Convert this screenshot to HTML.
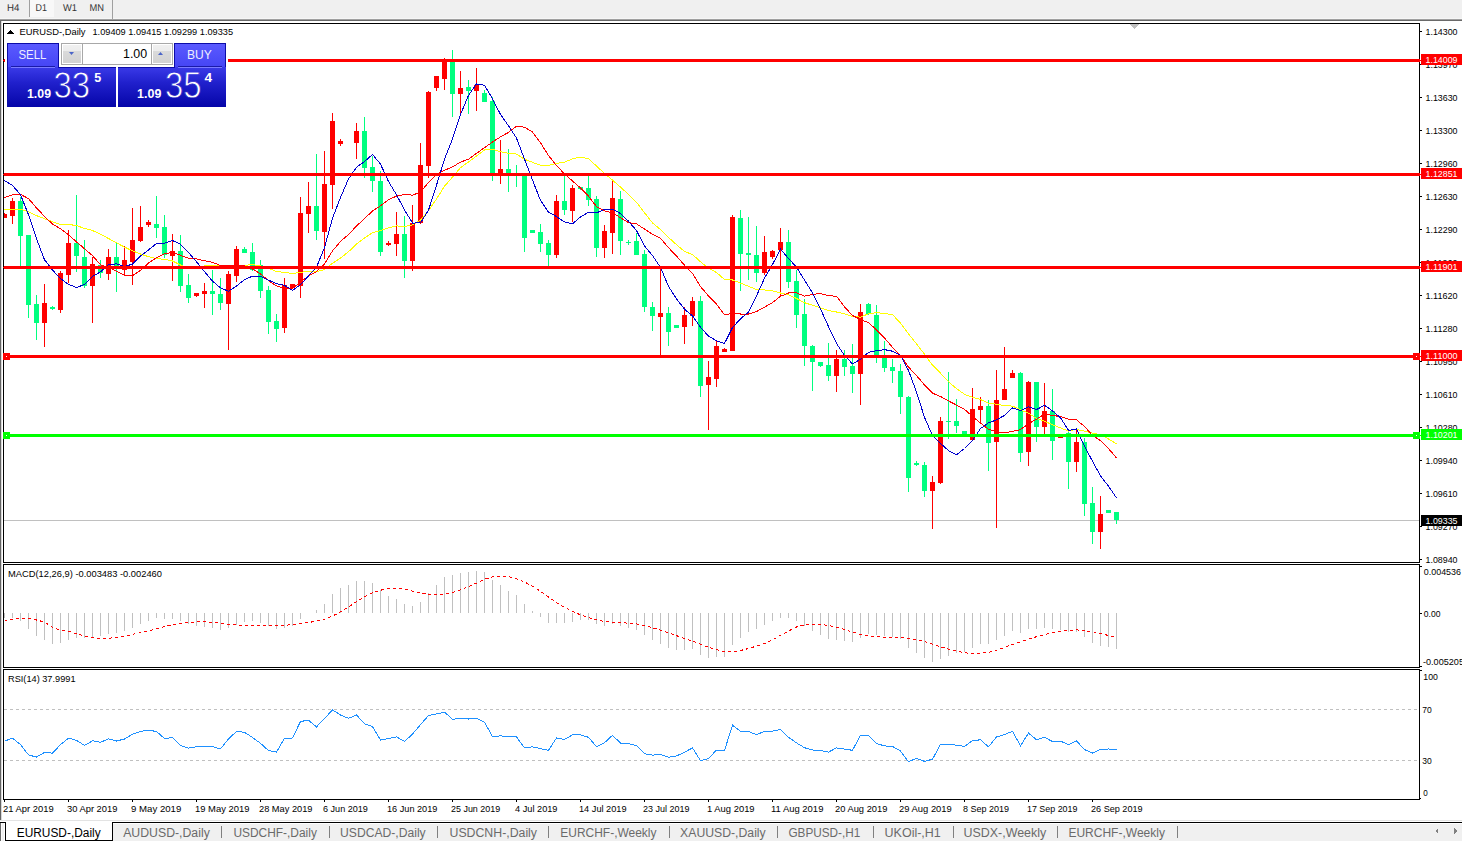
<!DOCTYPE html>
<html><head><meta charset="utf-8"><title>EURUSD-,Daily</title>
<style>
html,body{margin:0;padding:0;}
body{width:1462px;height:841px;overflow:hidden;background:#fff;position:relative;font-family:"Liberation Sans",sans-serif;}
.abs{position:absolute;}
svg text{font-family:"Liberation Sans",sans-serif;}
.tb{position:absolute;left:0;top:0;width:1462px;height:19px;background:#f0f0f0;}
.bl{position:absolute;box-sizing:border-box;}
</style></head><body>
<div class="tb"></div>
<div class="abs" style="left:0;top:18px;width:1462px;height:1px;background:#f6f6f6"></div>
<div class="abs" style="left:0;top:19px;width:1462px;height:1px;background:#a0a0a0"></div>
<div class="abs" style="left:0;top:20px;width:1462px;height:1px;background:#696969"></div>
<div class="abs" style="left:30px;top:0;width:24px;height:17px;background:#f8f8f8"></div>
<div class="abs" style="left:29px;top:0;width:1px;height:17px;background:#a0a0a0"></div>
<div class="abs" style="left:112px;top:0;width:1px;height:19px;background:#a0a0a0"></div>
<div class="abs" style="left:0;top:820px;width:1462px;height:1px;background:#e3e3e3"></div>
<div class="abs" style="left:0;top:822px;width:1462px;height:19px;background:#f0f0f0"></div>
<div class="abs" style="left:0;top:822px;width:1462px;height:1px;background:#000"></div>
<div class="abs" style="left:113px;top:823px;width:1349px;height:1px;background:#fff"></div>
<div class="abs" style="left:0;top:823px;width:1px;height:18px;background:#6a6a6a"></div>
<div class="abs" style="left:1px;top:823px;width:1px;height:18px;background:#fafafa"></div>
<div class="abs" style="left:4px;top:823px;width:1px;height:18px;background:#fff"></div>
<div class="abs" style="left:5px;top:822px;width:108px;height:19px;background:#fff;border-left:1px solid #000;border-right:1px solid #000;border-bottom:1px solid #000;box-sizing:border-box"></div>
<svg class="abs" style="left:0;top:0" width="1462" height="841" viewBox="0 0 1462 841" shape-rendering="crispEdges">
<g font-family="Liberation Sans" text-rendering="geometricPrecision">
<text x="7" y="11" font-size="10" fill="#333" textLength="12.4" lengthAdjust="spacingAndGlyphs">H4</text>
<text x="35.6" y="11" font-size="10" fill="#333" textLength="11.4" lengthAdjust="spacingAndGlyphs">D1</text>
<text x="63" y="11" font-size="10" fill="#333" textLength="14" lengthAdjust="spacingAndGlyphs">W1</text>
<text x="89.5" y="11" font-size="10" fill="#333" textLength="14.5" lengthAdjust="spacingAndGlyphs">MN</text>
</g>
<rect x="0" y="21" width="1" height="799" fill="#646464"/>
<rect x="1" y="21" width="1" height="799" fill="#d8d8d8"/>
<rect x="3" y="23" width="1417" height="1" fill="#000"/>
<rect x="3" y="562" width="1417" height="1" fill="#000"/>
<rect x="3" y="23" width="1" height="540" fill="#000"/>
<rect x="1419" y="23" width="1" height="540" fill="#000"/>
<rect x="3" y="564" width="1417" height="1" fill="#000"/>
<rect x="3" y="667" width="1417" height="1" fill="#000"/>
<rect x="3" y="564" width="1" height="104" fill="#000"/>
<rect x="1419" y="564" width="1" height="104" fill="#000"/>
<rect x="3" y="669" width="1417" height="1" fill="#000"/>
<rect x="3" y="799" width="1417" height="1" fill="#000"/>
<rect x="3" y="669" width="1" height="131" fill="#000"/>
<rect x="1419" y="669" width="1" height="131" fill="#000"/>
<rect x="1420" y="31" width="2" height="1" fill="#000"/>
<text x="1425.5" y="35" font-size="9.6" fill="#000" textLength="32" lengthAdjust="spacingAndGlyphs">1.14300</text>
<rect x="1420" y="64" width="2" height="1" fill="#000"/>
<text x="1425.5" y="68" font-size="9.6" fill="#000" textLength="32" lengthAdjust="spacingAndGlyphs">1.13970</text>
<rect x="1420" y="97" width="2" height="1" fill="#000"/>
<text x="1425.5" y="101" font-size="9.6" fill="#000" textLength="32" lengthAdjust="spacingAndGlyphs">1.13630</text>
<rect x="1420" y="130" width="2" height="1" fill="#000"/>
<text x="1425.5" y="134" font-size="9.6" fill="#000" textLength="32" lengthAdjust="spacingAndGlyphs">1.13300</text>
<rect x="1420" y="163" width="2" height="1" fill="#000"/>
<text x="1425.5" y="167" font-size="9.6" fill="#000" textLength="32" lengthAdjust="spacingAndGlyphs">1.12960</text>
<rect x="1420" y="196" width="2" height="1" fill="#000"/>
<text x="1425.5" y="200" font-size="9.6" fill="#000" textLength="32" lengthAdjust="spacingAndGlyphs">1.12630</text>
<rect x="1420" y="229" width="2" height="1" fill="#000"/>
<text x="1425.5" y="233" font-size="9.6" fill="#000" textLength="32" lengthAdjust="spacingAndGlyphs">1.12290</text>
<rect x="1420" y="262" width="2" height="1" fill="#000"/>
<text x="1425.5" y="266" font-size="9.6" fill="#000" textLength="32" lengthAdjust="spacingAndGlyphs">1.11960</text>
<rect x="1420" y="295" width="2" height="1" fill="#000"/>
<text x="1425.5" y="299" font-size="9.6" fill="#000" textLength="32" lengthAdjust="spacingAndGlyphs">1.11620</text>
<rect x="1420" y="328" width="2" height="1" fill="#000"/>
<text x="1425.5" y="332" font-size="9.6" fill="#000" textLength="32" lengthAdjust="spacingAndGlyphs">1.11280</text>
<rect x="1420" y="361" width="2" height="1" fill="#000"/>
<text x="1425.5" y="365" font-size="9.6" fill="#000" textLength="32" lengthAdjust="spacingAndGlyphs">1.10950</text>
<rect x="1420" y="394" width="2" height="1" fill="#000"/>
<text x="1425.5" y="398" font-size="9.6" fill="#000" textLength="32" lengthAdjust="spacingAndGlyphs">1.10610</text>
<rect x="1420" y="427" width="2" height="1" fill="#000"/>
<text x="1425.5" y="431" font-size="9.6" fill="#000" textLength="32" lengthAdjust="spacingAndGlyphs">1.10280</text>
<rect x="1420" y="460" width="2" height="1" fill="#000"/>
<text x="1425.5" y="464" font-size="9.6" fill="#000" textLength="32" lengthAdjust="spacingAndGlyphs">1.09940</text>
<rect x="1420" y="493" width="2" height="1" fill="#000"/>
<text x="1425.5" y="497" font-size="9.6" fill="#000" textLength="32" lengthAdjust="spacingAndGlyphs">1.09610</text>
<rect x="1420" y="526" width="2" height="1" fill="#000"/>
<text x="1425.5" y="530" font-size="9.6" fill="#000" textLength="32" lengthAdjust="spacingAndGlyphs">1.09270</text>
<rect x="1420" y="559" width="2" height="1" fill="#000"/>
<text x="1425.5" y="563" font-size="9.6" fill="#000" textLength="32" lengthAdjust="spacingAndGlyphs">1.08940</text>
<rect x="4" y="520" width="1415" height="1" fill="#c0c0c0"/>
<rect x="4" y="213" width="1" height="5" fill="#ff0000"/>
<rect x="4" y="214" width="3" height="4" fill="#ff0000"/>
<rect x="12" y="198" width="1" height="26" fill="#ff0000"/>
<rect x="10" y="201" width="5" height="15" fill="#ff0000"/>
<rect x="20" y="197" width="1" height="69" fill="#00ff7f"/>
<rect x="18" y="201" width="5" height="35" fill="#00ff7f"/>
<rect x="28" y="235" width="1" height="83" fill="#00ff7f"/>
<rect x="26" y="235" width="5" height="70" fill="#00ff7f"/>
<rect x="36" y="295" width="1" height="45" fill="#00ff7f"/>
<rect x="34" y="304" width="5" height="19" fill="#00ff7f"/>
<rect x="44" y="284" width="1" height="63" fill="#ff0000"/>
<rect x="42" y="303" width="5" height="20" fill="#ff0000"/>
<rect x="52" y="306" width="1" height="4" fill="#00ff7f"/>
<rect x="50" y="307" width="5" height="2" fill="#00ff7f"/>
<rect x="60" y="271" width="1" height="42" fill="#ff0000"/>
<rect x="58" y="273" width="5" height="37" fill="#ff0000"/>
<rect x="68" y="230" width="1" height="53" fill="#ff0000"/>
<rect x="66" y="243" width="5" height="32" fill="#ff0000"/>
<rect x="76" y="195" width="1" height="77" fill="#00ff7f"/>
<rect x="74" y="243" width="5" height="13" fill="#00ff7f"/>
<rect x="84" y="240" width="1" height="48" fill="#00ff7f"/>
<rect x="82" y="257" width="5" height="29" fill="#00ff7f"/>
<rect x="92" y="257" width="1" height="66" fill="#ff0000"/>
<rect x="90" y="264" width="5" height="22" fill="#ff0000"/>
<rect x="100" y="260" width="1" height="18" fill="#00ff7f"/>
<rect x="98" y="265" width="5" height="8" fill="#00ff7f"/>
<rect x="108" y="249" width="1" height="31" fill="#ff0000"/>
<rect x="106" y="257" width="5" height="17" fill="#ff0000"/>
<rect x="116" y="242" width="1" height="50" fill="#00ff7f"/>
<rect x="114" y="257" width="5" height="12" fill="#00ff7f"/>
<rect x="124" y="246" width="1" height="29" fill="#ff0000"/>
<rect x="122" y="260" width="5" height="10" fill="#ff0000"/>
<rect x="132" y="208" width="1" height="77" fill="#ff0000"/>
<rect x="130" y="240" width="5" height="22" fill="#ff0000"/>
<rect x="140" y="206" width="1" height="36" fill="#ff0000"/>
<rect x="138" y="227" width="5" height="14" fill="#ff0000"/>
<rect x="148" y="220" width="1" height="7" fill="#ff0000"/>
<rect x="146" y="222" width="5" height="3" fill="#ff0000"/>
<rect x="156" y="196" width="1" height="42" fill="#00ff7f"/>
<rect x="154" y="224" width="5" height="4" fill="#00ff7f"/>
<rect x="164" y="215" width="1" height="43" fill="#00ff7f"/>
<rect x="162" y="227" width="5" height="28" fill="#00ff7f"/>
<rect x="172" y="234" width="1" height="47" fill="#ff0000"/>
<rect x="170" y="251" width="5" height="5" fill="#ff0000"/>
<rect x="180" y="235" width="1" height="57" fill="#00ff7f"/>
<rect x="178" y="251" width="5" height="35" fill="#00ff7f"/>
<rect x="188" y="274" width="1" height="29" fill="#00ff7f"/>
<rect x="186" y="285" width="5" height="13" fill="#00ff7f"/>
<rect x="196" y="293" width="1" height="4" fill="#ff0000"/>
<rect x="194" y="293" width="5" height="3" fill="#ff0000"/>
<rect x="204" y="283" width="1" height="25" fill="#ff0000"/>
<rect x="202" y="291" width="5" height="3" fill="#ff0000"/>
<rect x="212" y="270" width="1" height="45" fill="#00ff7f"/>
<rect x="210" y="291" width="5" height="3" fill="#00ff7f"/>
<rect x="220" y="278" width="1" height="32" fill="#00ff7f"/>
<rect x="218" y="294" width="5" height="9" fill="#00ff7f"/>
<rect x="228" y="271" width="1" height="79" fill="#ff0000"/>
<rect x="226" y="274" width="5" height="30" fill="#ff0000"/>
<rect x="236" y="246" width="1" height="36" fill="#ff0000"/>
<rect x="234" y="249" width="5" height="27" fill="#ff0000"/>
<rect x="244" y="247" width="1" height="6" fill="#00ff7f"/>
<rect x="242" y="249" width="5" height="4" fill="#00ff7f"/>
<rect x="252" y="243" width="1" height="28" fill="#00ff7f"/>
<rect x="250" y="252" width="5" height="18" fill="#00ff7f"/>
<rect x="260" y="260" width="1" height="38" fill="#00ff7f"/>
<rect x="258" y="265" width="5" height="26" fill="#00ff7f"/>
<rect x="268" y="286" width="1" height="48" fill="#00ff7f"/>
<rect x="266" y="290" width="5" height="32" fill="#00ff7f"/>
<rect x="276" y="314" width="1" height="28" fill="#00ff7f"/>
<rect x="274" y="321" width="5" height="8" fill="#00ff7f"/>
<rect x="284" y="278" width="1" height="55" fill="#ff0000"/>
<rect x="282" y="285" width="5" height="43" fill="#ff0000"/>
<rect x="292" y="284" width="1" height="4" fill="#ff0000"/>
<rect x="290" y="284" width="5" height="4" fill="#ff0000"/>
<rect x="300" y="197" width="1" height="101" fill="#ff0000"/>
<rect x="298" y="213" width="5" height="73" fill="#ff0000"/>
<rect x="308" y="182" width="1" height="51" fill="#ff0000"/>
<rect x="306" y="206" width="5" height="8" fill="#ff0000"/>
<rect x="316" y="154" width="1" height="86" fill="#00ff7f"/>
<rect x="314" y="206" width="5" height="25" fill="#00ff7f"/>
<rect x="324" y="151" width="1" height="108" fill="#ff0000"/>
<rect x="322" y="184" width="5" height="48" fill="#ff0000"/>
<rect x="332" y="113" width="1" height="96" fill="#ff0000"/>
<rect x="330" y="121" width="5" height="64" fill="#ff0000"/>
<rect x="340" y="139" width="1" height="7" fill="#ff0000"/>
<rect x="338" y="141" width="5" height="3" fill="#ff0000"/>
<rect x="356" y="123" width="1" height="36" fill="#ff0000"/>
<rect x="354" y="131" width="5" height="12" fill="#ff0000"/>
<rect x="364" y="117" width="1" height="61" fill="#00ff7f"/>
<rect x="362" y="131" width="5" height="37" fill="#00ff7f"/>
<rect x="372" y="156" width="1" height="36" fill="#00ff7f"/>
<rect x="370" y="167" width="5" height="14" fill="#00ff7f"/>
<rect x="380" y="171" width="1" height="85" fill="#00ff7f"/>
<rect x="378" y="181" width="5" height="71" fill="#00ff7f"/>
<rect x="388" y="241" width="1" height="5" fill="#ff0000"/>
<rect x="386" y="243" width="5" height="2" fill="#ff0000"/>
<rect x="396" y="212" width="1" height="44" fill="#ff0000"/>
<rect x="394" y="234" width="5" height="10" fill="#ff0000"/>
<rect x="404" y="216" width="1" height="62" fill="#00ff7f"/>
<rect x="402" y="234" width="5" height="27" fill="#00ff7f"/>
<rect x="412" y="205" width="1" height="66" fill="#ff0000"/>
<rect x="410" y="223" width="5" height="38" fill="#ff0000"/>
<rect x="420" y="143" width="1" height="81" fill="#ff0000"/>
<rect x="418" y="165" width="5" height="58" fill="#ff0000"/>
<rect x="428" y="91" width="1" height="87" fill="#ff0000"/>
<rect x="426" y="92" width="5" height="74" fill="#ff0000"/>
<rect x="436" y="76" width="1" height="15" fill="#ff0000"/>
<rect x="434" y="76" width="5" height="12" fill="#ff0000"/>
<rect x="444" y="58" width="1" height="32" fill="#ff0000"/>
<rect x="442" y="60" width="5" height="19" fill="#ff0000"/>
<rect x="452" y="50" width="1" height="67" fill="#00ff7f"/>
<rect x="450" y="62" width="5" height="32" fill="#00ff7f"/>
<rect x="460" y="71" width="1" height="42" fill="#ff0000"/>
<rect x="458" y="88" width="5" height="6" fill="#ff0000"/>
<rect x="468" y="80" width="1" height="34" fill="#00ff7f"/>
<rect x="466" y="87" width="5" height="4" fill="#00ff7f"/>
<rect x="476" y="68" width="1" height="43" fill="#ff0000"/>
<rect x="474" y="85" width="5" height="6" fill="#ff0000"/>
<rect x="484" y="90" width="1" height="12" fill="#00ff7f"/>
<rect x="482" y="93" width="5" height="9" fill="#00ff7f"/>
<rect x="492" y="97" width="1" height="84" fill="#00ff7f"/>
<rect x="490" y="101" width="5" height="72" fill="#00ff7f"/>
<rect x="500" y="140" width="1" height="44" fill="#ff0000"/>
<rect x="498" y="169" width="5" height="5" fill="#ff0000"/>
<rect x="508" y="149" width="1" height="43" fill="#00ff7f"/>
<rect x="506" y="169" width="5" height="4" fill="#00ff7f"/>
<rect x="516" y="165" width="1" height="22" fill="#00ff7f"/>
<rect x="514" y="173" width="5" height="2" fill="#00ff7f"/>
<rect x="524" y="176" width="1" height="76" fill="#00ff7f"/>
<rect x="522" y="176" width="5" height="62" fill="#00ff7f"/>
<rect x="532" y="230" width="1" height="3" fill="#00ff7f"/>
<rect x="530" y="230" width="5" height="3" fill="#00ff7f"/>
<rect x="540" y="224" width="1" height="28" fill="#00ff7f"/>
<rect x="538" y="232" width="5" height="12" fill="#00ff7f"/>
<rect x="548" y="240" width="1" height="26" fill="#00ff7f"/>
<rect x="546" y="243" width="5" height="12" fill="#00ff7f"/>
<rect x="556" y="195" width="1" height="63" fill="#ff0000"/>
<rect x="554" y="201" width="5" height="54" fill="#ff0000"/>
<rect x="564" y="176" width="1" height="39" fill="#00ff7f"/>
<rect x="562" y="201" width="5" height="9" fill="#00ff7f"/>
<rect x="572" y="185" width="1" height="37" fill="#ff0000"/>
<rect x="570" y="188" width="5" height="23" fill="#ff0000"/>
<rect x="580" y="187" width="1" height="3" fill="#00ff7f"/>
<rect x="578" y="187" width="5" height="2" fill="#00ff7f"/>
<rect x="588" y="176" width="1" height="30" fill="#00ff7f"/>
<rect x="586" y="188" width="5" height="12" fill="#00ff7f"/>
<rect x="596" y="196" width="1" height="61" fill="#00ff7f"/>
<rect x="594" y="199" width="5" height="49" fill="#00ff7f"/>
<rect x="604" y="225" width="1" height="33" fill="#ff0000"/>
<rect x="602" y="231" width="5" height="17" fill="#ff0000"/>
<rect x="612" y="179" width="1" height="75" fill="#ff0000"/>
<rect x="610" y="198" width="5" height="35" fill="#ff0000"/>
<rect x="620" y="191" width="1" height="64" fill="#00ff7f"/>
<rect x="618" y="199" width="5" height="42" fill="#00ff7f"/>
<rect x="628" y="240" width="1" height="5" fill="#00ff7f"/>
<rect x="626" y="242" width="5" height="1" fill="#00ff7f"/>
<rect x="636" y="233" width="1" height="22" fill="#00ff7f"/>
<rect x="634" y="241" width="5" height="14" fill="#00ff7f"/>
<rect x="644" y="250" width="1" height="62" fill="#00ff7f"/>
<rect x="642" y="254" width="5" height="53" fill="#00ff7f"/>
<rect x="652" y="302" width="1" height="29" fill="#00ff7f"/>
<rect x="650" y="307" width="5" height="9" fill="#00ff7f"/>
<rect x="660" y="269" width="1" height="86" fill="#ff0000"/>
<rect x="658" y="313" width="5" height="4" fill="#ff0000"/>
<rect x="668" y="307" width="1" height="39" fill="#00ff7f"/>
<rect x="666" y="313" width="5" height="19" fill="#00ff7f"/>
<rect x="676" y="325" width="1" height="3" fill="#00ff7f"/>
<rect x="674" y="325" width="5" height="3" fill="#00ff7f"/>
<rect x="684" y="307" width="1" height="37" fill="#ff0000"/>
<rect x="682" y="315" width="5" height="12" fill="#ff0000"/>
<rect x="692" y="297" width="1" height="29" fill="#ff0000"/>
<rect x="690" y="301" width="5" height="15" fill="#ff0000"/>
<rect x="700" y="296" width="1" height="101" fill="#00ff7f"/>
<rect x="698" y="301" width="5" height="85" fill="#00ff7f"/>
<rect x="708" y="361" width="1" height="69" fill="#ff0000"/>
<rect x="706" y="377" width="5" height="8" fill="#ff0000"/>
<rect x="716" y="340" width="1" height="47" fill="#ff0000"/>
<rect x="714" y="346" width="5" height="33" fill="#ff0000"/>
<rect x="724" y="348" width="1" height="4" fill="#ff0000"/>
<rect x="722" y="349" width="5" height="3" fill="#ff0000"/>
<rect x="732" y="215" width="1" height="136" fill="#ff0000"/>
<rect x="730" y="217" width="5" height="134" fill="#ff0000"/>
<rect x="740" y="210" width="1" height="81" fill="#00ff7f"/>
<rect x="738" y="218" width="5" height="36" fill="#00ff7f"/>
<rect x="748" y="217" width="1" height="63" fill="#00ff7f"/>
<rect x="746" y="253" width="5" height="2" fill="#00ff7f"/>
<rect x="756" y="226" width="1" height="56" fill="#00ff7f"/>
<rect x="754" y="255" width="5" height="18" fill="#00ff7f"/>
<rect x="764" y="236" width="1" height="39" fill="#ff0000"/>
<rect x="762" y="252" width="5" height="21" fill="#ff0000"/>
<rect x="772" y="250" width="1" height="9" fill="#ff0000"/>
<rect x="770" y="251" width="5" height="6" fill="#ff0000"/>
<rect x="780" y="228" width="1" height="68" fill="#ff0000"/>
<rect x="778" y="242" width="5" height="8" fill="#ff0000"/>
<rect x="788" y="230" width="1" height="58" fill="#00ff7f"/>
<rect x="786" y="242" width="5" height="40" fill="#00ff7f"/>
<rect x="796" y="270" width="1" height="58" fill="#00ff7f"/>
<rect x="794" y="281" width="5" height="34" fill="#00ff7f"/>
<rect x="804" y="299" width="1" height="67" fill="#00ff7f"/>
<rect x="802" y="314" width="5" height="32" fill="#00ff7f"/>
<rect x="812" y="345" width="1" height="46" fill="#00ff7f"/>
<rect x="810" y="346" width="5" height="16" fill="#00ff7f"/>
<rect x="820" y="362" width="1" height="5" fill="#00ff7f"/>
<rect x="818" y="362" width="5" height="4" fill="#00ff7f"/>
<rect x="828" y="343" width="1" height="38" fill="#00ff7f"/>
<rect x="826" y="365" width="5" height="11" fill="#00ff7f"/>
<rect x="836" y="350" width="1" height="42" fill="#ff0000"/>
<rect x="834" y="359" width="5" height="17" fill="#ff0000"/>
<rect x="844" y="350" width="1" height="26" fill="#00ff7f"/>
<rect x="842" y="359" width="5" height="8" fill="#00ff7f"/>
<rect x="852" y="344" width="1" height="49" fill="#00ff7f"/>
<rect x="850" y="366" width="5" height="8" fill="#00ff7f"/>
<rect x="860" y="304" width="1" height="101" fill="#ff0000"/>
<rect x="858" y="312" width="5" height="62" fill="#ff0000"/>
<rect x="868" y="303" width="1" height="12" fill="#00ff7f"/>
<rect x="866" y="304" width="5" height="10" fill="#00ff7f"/>
<rect x="876" y="305" width="1" height="58" fill="#00ff7f"/>
<rect x="874" y="315" width="5" height="40" fill="#00ff7f"/>
<rect x="884" y="341" width="1" height="31" fill="#00ff7f"/>
<rect x="882" y="357" width="5" height="11" fill="#00ff7f"/>
<rect x="892" y="359" width="1" height="24" fill="#00ff7f"/>
<rect x="890" y="367" width="5" height="4" fill="#00ff7f"/>
<rect x="900" y="364" width="1" height="50" fill="#00ff7f"/>
<rect x="898" y="371" width="5" height="26" fill="#00ff7f"/>
<rect x="908" y="396" width="1" height="96" fill="#00ff7f"/>
<rect x="906" y="397" width="5" height="81" fill="#00ff7f"/>
<rect x="916" y="461" width="1" height="5" fill="#00ff7f"/>
<rect x="914" y="463" width="5" height="2" fill="#00ff7f"/>
<rect x="924" y="462" width="1" height="35" fill="#00ff7f"/>
<rect x="922" y="465" width="5" height="26" fill="#00ff7f"/>
<rect x="932" y="476" width="1" height="53" fill="#ff0000"/>
<rect x="930" y="482" width="5" height="9" fill="#ff0000"/>
<rect x="940" y="417" width="1" height="67" fill="#ff0000"/>
<rect x="938" y="421" width="5" height="62" fill="#ff0000"/>
<rect x="948" y="372" width="1" height="67" fill="#00ff7f"/>
<rect x="946" y="421" width="5" height="1" fill="#00ff7f"/>
<rect x="956" y="399" width="1" height="34" fill="#00ff7f"/>
<rect x="954" y="421" width="5" height="5" fill="#00ff7f"/>
<rect x="964" y="431" width="1" height="3" fill="#00ff7f"/>
<rect x="962" y="431" width="5" height="3" fill="#00ff7f"/>
<rect x="972" y="388" width="1" height="53" fill="#ff0000"/>
<rect x="970" y="409" width="5" height="31" fill="#ff0000"/>
<rect x="980" y="397" width="1" height="27" fill="#ff0000"/>
<rect x="978" y="406" width="5" height="4" fill="#ff0000"/>
<rect x="988" y="400" width="1" height="71" fill="#00ff7f"/>
<rect x="986" y="406" width="5" height="37" fill="#00ff7f"/>
<rect x="996" y="370" width="1" height="158" fill="#ff0000"/>
<rect x="994" y="400" width="5" height="42" fill="#ff0000"/>
<rect x="1004" y="347" width="1" height="53" fill="#ff0000"/>
<rect x="1002" y="389" width="5" height="11" fill="#ff0000"/>
<rect x="1012" y="370" width="1" height="8" fill="#ff0000"/>
<rect x="1010" y="373" width="5" height="5" fill="#ff0000"/>
<rect x="1020" y="372" width="1" height="90" fill="#00ff7f"/>
<rect x="1018" y="373" width="5" height="80" fill="#00ff7f"/>
<rect x="1028" y="381" width="1" height="85" fill="#ff0000"/>
<rect x="1026" y="382" width="5" height="70" fill="#ff0000"/>
<rect x="1036" y="382" width="1" height="60" fill="#00ff7f"/>
<rect x="1034" y="382" width="5" height="45" fill="#00ff7f"/>
<rect x="1044" y="383" width="1" height="51" fill="#ff0000"/>
<rect x="1042" y="411" width="5" height="16" fill="#ff0000"/>
<rect x="1052" y="389" width="1" height="71" fill="#00ff7f"/>
<rect x="1050" y="411" width="5" height="30" fill="#00ff7f"/>
<rect x="1060" y="437" width="1" height="1" fill="#ff0000"/>
<rect x="1058" y="437" width="5" height="1" fill="#ff0000"/>
<rect x="1068" y="429" width="1" height="60" fill="#00ff7f"/>
<rect x="1066" y="433" width="5" height="29" fill="#00ff7f"/>
<rect x="1076" y="430" width="1" height="42" fill="#ff0000"/>
<rect x="1074" y="442" width="5" height="20" fill="#ff0000"/>
<rect x="1084" y="438" width="1" height="78" fill="#00ff7f"/>
<rect x="1082" y="442" width="5" height="62" fill="#00ff7f"/>
<rect x="1092" y="487" width="1" height="57" fill="#00ff7f"/>
<rect x="1090" y="503" width="5" height="29" fill="#00ff7f"/>
<rect x="1100" y="496" width="1" height="53" fill="#ff0000"/>
<rect x="1098" y="514" width="5" height="18" fill="#ff0000"/>
<rect x="1108" y="510" width="1" height="3" fill="#00ff7f"/>
<rect x="1106" y="510" width="5" height="3" fill="#00ff7f"/>
<rect x="1116" y="512" width="1" height="12" fill="#00ff7f"/>
<rect x="1114" y="512" width="5" height="8" fill="#00ff7f"/>
<polyline points="4.5,209.4 12.5,209.9 20.5,209.4 28.5,211.7 36.5,215.6 44.5,218.7 52.5,221.8 60.5,224.4 68.5,224.4 76.5,225.6 84.5,228.4 92.5,230.5 100.5,234.2 108.5,238.5 116.5,242.8 124.5,247.1 132.5,250.8 140.5,254.0 148.5,256.7 156.5,258.6 164.5,259.3 172.5,261.0 180.5,265.0 188.5,268.0 196.5,267.5 204.5,266.0 212.5,265.5 220.5,265.2 228.5,265.3 236.5,265.5 244.5,265.4 252.5,264.6 260.5,265.9 268.5,268.2 276.5,271.6 284.5,272.4 292.5,273.5 300.5,272.3 308.5,271.3 316.5,271.6 324.5,269.6 332.5,263.3 340.5,258.0 348.5,251.8 356.5,243.9 364.5,237.9 372.5,232.6 380.5,230.6 388.5,227.8 396.5,225.9 404.5,226.4 412.5,225.0 420.5,220.1 428.5,210.6 436.5,199.0 444.5,186.2 452.5,177.1 460.5,167.7 468.5,161.9 476.5,156.1 484.5,150.0 492.5,149.4 500.5,151.7 508.5,153.2 516.5,154.1 524.5,159.2 532.5,162.3 540.5,165.3 548.5,165.4 556.5,163.4 564.5,162.2 572.5,158.8 580.5,157.1 588.5,158.7 596.5,166.1 604.5,173.5 612.5,180.1 620.5,187.1 628.5,194.4 636.5,202.2 644.5,212.7 652.5,222.9 660.5,229.6 668.5,237.4 676.5,244.7 684.5,251.5 692.5,254.5 700.5,261.8 708.5,268.2 716.5,272.5 724.5,279.6 732.5,280.0 740.5,283.1 748.5,286.2 756.5,289.7 764.5,289.9 772.5,290.9 780.5,293.0 788.5,294.9 796.5,298.4 804.5,302.7 812.5,305.3 820.5,307.7 828.5,310.6 836.5,312.0 844.5,313.8 852.5,316.6 860.5,317.1 868.5,313.7 876.5,312.6 884.5,313.6 892.5,314.6 900.5,323.1 908.5,333.8 916.5,343.8 924.5,354.2 932.5,365.1 940.5,373.2 948.5,381.7 956.5,388.6 964.5,394.3 972.5,397.3 980.5,399.5 988.5,403.1 996.5,404.3 1004.5,405.7 1012.5,406.1 1020.5,409.8 1028.5,413.2 1036.5,418.5 1044.5,421.3 1052.5,424.7 1060.5,427.9 1068.5,431.0 1076.5,429.4 1084.5,431.2 1092.5,433.2 1100.5,434.7 1108.5,439.0 1116.5,443.7" fill="none" stroke="#ffff00" stroke-width="1"/>
<polyline points="4.5,197.5 12.5,194.7 20.5,194.4 28.5,198.6 36.5,207.9 44.5,216.4 52.5,224.1 60.5,228.7 68.5,234.9 76.5,241.9 84.5,248.7 92.5,255.6 100.5,264.7 108.5,267.4 116.5,271.2 124.5,275.4 132.5,275.8 140.5,270.3 148.5,263.1 156.5,257.7 164.5,253.9 172.5,252.3 180.5,255.3 188.5,258.3 196.5,258.9 204.5,260.8 212.5,262.3 220.5,265.5 228.5,265.9 236.5,265.1 244.5,266.0 252.5,269.0 260.5,273.9 268.5,280.6 276.5,285.9 284.5,288.3 292.5,288.2 300.5,282.2 308.5,276.0 316.5,271.6 324.5,263.9 332.5,250.9 340.5,241.4 348.5,234.6 356.5,226.0 364.5,218.7 372.5,210.9 380.5,205.9 388.5,199.8 396.5,196.1 404.5,194.4 412.5,195.1 420.5,192.2 428.5,182.4 436.5,174.6 444.5,170.3 452.5,166.9 460.5,162.1 468.5,159.2 476.5,153.4 484.5,147.7 492.5,142.1 500.5,136.8 508.5,132.4 516.5,126.2 524.5,127.2 532.5,132.0 540.5,142.8 548.5,155.5 556.5,165.6 564.5,173.9 572.5,181.0 580.5,188.0 588.5,196.1 596.5,206.6 604.5,210.8 612.5,212.9 620.5,217.7 628.5,222.6 636.5,223.8 644.5,229.1 652.5,234.2 660.5,238.4 668.5,247.7 676.5,256.1 684.5,265.2 692.5,273.3 700.5,286.6 708.5,295.9 716.5,304.1 724.5,314.9 732.5,313.2 740.5,314.0 748.5,314.0 756.5,311.6 764.5,307.1 772.5,302.6 780.5,296.3 788.5,293.0 796.5,292.9 804.5,296.1 812.5,294.4 820.5,293.5 828.5,295.6 836.5,296.3 844.5,306.9 852.5,315.5 860.5,319.6 868.5,322.6 876.5,329.9 884.5,338.1 892.5,347.3 900.5,355.5 908.5,367.1 916.5,375.6 924.5,384.9 932.5,393.2 940.5,396.5 948.5,400.9 956.5,405.1 964.5,409.4 972.5,416.4 980.5,423.0 988.5,429.3 996.5,431.6 1004.5,433.0 1012.5,431.4 1020.5,429.6 1028.5,423.7 1036.5,419.1 1044.5,414.1 1052.5,415.4 1060.5,416.6 1068.5,419.1 1076.5,419.8 1084.5,426.5 1092.5,435.4 1100.5,440.6 1108.5,448.6 1116.5,457.9" fill="none" stroke="#ff0000" stroke-width="1"/>
<polyline points="4.5,180.5 12.5,185.5 20.5,194.7 28.5,214.8 36.5,238.8 44.5,259.7 52.5,270.1 60.5,278.5 68.5,284.5 76.5,287.4 84.5,284.6 92.5,276.4 100.5,271.9 108.5,264.6 116.5,263.9 124.5,266.4 132.5,264.2 140.5,255.9 148.5,249.9 156.5,243.5 164.5,243.1 172.5,240.6 180.5,244.2 188.5,252.4 196.5,261.8 204.5,271.6 212.5,281.1 220.5,287.9 228.5,291.2 236.5,286.1 244.5,279.6 252.5,276.2 260.5,276.1 268.5,280.1 276.5,283.8 284.5,285.4 292.5,290.4 300.5,284.8 308.5,275.8 316.5,267.2 324.5,247.6 332.5,218.1 340.5,197.5 348.5,178.9 356.5,167.2 364.5,161.6 372.5,154.5 380.5,164.1 388.5,181.5 396.5,194.8 404.5,209.9 412.5,223.1 420.5,222.8 428.5,210.2 436.5,185.2 444.5,159.1 452.5,138.9 460.5,114.4 468.5,95.4 476.5,83.9 484.5,85.2 492.5,98.9 500.5,114.5 508.5,125.8 516.5,138.1 524.5,159.1 532.5,180.1 540.5,200.4 548.5,212.1 556.5,216.6 564.5,221.9 572.5,223.9 580.5,216.9 588.5,212.2 596.5,212.8 604.5,209.5 612.5,209.1 620.5,213.5 628.5,221.2 636.5,230.6 644.5,245.9 652.5,255.6 660.5,267.4 668.5,286.4 676.5,298.8 684.5,309.2 692.5,315.9 700.5,327.2 708.5,336.1 716.5,340.8 724.5,343.4 732.5,327.6 740.5,318.8 748.5,312.1 756.5,295.9 764.5,278.1 772.5,264.5 780.5,249.2 788.5,258.4 796.5,267.1 804.5,280.1 812.5,292.8 820.5,308.9 828.5,326.6 836.5,343.4 844.5,355.5 852.5,363.9 860.5,359.2 868.5,352.4 876.5,350.8 884.5,349.6 892.5,351.2 900.5,355.5 908.5,370.4 916.5,392.1 924.5,417.4 932.5,435.6 940.5,443.4 948.5,450.6 956.5,454.8 964.5,448.5 972.5,440.6 980.5,428.6 988.5,422.9 996.5,419.9 1004.5,415.4 1012.5,407.9 1020.5,410.6 1028.5,406.8 1036.5,409.6 1044.5,405.2 1052.5,410.9 1060.5,417.8 1068.5,430.4 1076.5,428.9 1084.5,446.2 1092.5,461.2 1100.5,475.9 1108.5,486.2 1116.5,497.9" fill="none" stroke="#0000cd" stroke-width="1"/>
<rect x="4" y="59" width="1416" height="3" fill="#ff0000"/>
<rect x="3" y="60" width="1418" height="1" fill="#ff0000"/>
<rect x="4" y="173" width="1416" height="3" fill="#ff0000"/>
<rect x="3" y="174" width="1418" height="1" fill="#ff0000"/>
<rect x="4" y="266" width="1416" height="3" fill="#ff0000"/>
<rect x="3" y="267" width="1418" height="1" fill="#ff0000"/>
<rect x="4" y="355" width="1416" height="3" fill="#ff0000"/>
<rect x="3" y="356" width="1418" height="1" fill="#ff0000"/>
<rect x="4" y="434" width="1416" height="3" fill="#00ff00"/>
<rect x="3" y="435" width="1418" height="1" fill="#00ff00"/>
<rect x="3" y="353" width="7" height="7" fill="#ff0000"/>
<rect x="6" y="356" width="1" height="1" fill="#fff"/>
<rect x="1413" y="353" width="7" height="7" fill="#ff0000"/>
<rect x="1416" y="356" width="1" height="1" fill="#fff"/>
<rect x="3" y="432" width="7" height="7" fill="#00ff00"/>
<rect x="6" y="435" width="1" height="1" fill="#fff"/>
<rect x="1413" y="432" width="7" height="7" fill="#00ff00"/>
<rect x="1416" y="435" width="1" height="1" fill="#fff"/>
<rect x="1421" y="54" width="41" height="11" fill="#ff0000"/>
<text x="1425.5" y="63" font-size="9.6" fill="#fff" textLength="32" lengthAdjust="spacingAndGlyphs">1.14009</text>
<rect x="1421" y="168" width="41" height="11" fill="#ff0000"/>
<text x="1425.5" y="177" font-size="9.6" fill="#fff" textLength="32" lengthAdjust="spacingAndGlyphs">1.12851</text>
<rect x="1421" y="261" width="41" height="11" fill="#ff0000"/>
<text x="1425.5" y="270" font-size="9.6" fill="#fff" textLength="32" lengthAdjust="spacingAndGlyphs">1.11901</text>
<rect x="1421" y="350" width="41" height="11" fill="#ff0000"/>
<text x="1425.5" y="359" font-size="9.6" fill="#fff" textLength="32" lengthAdjust="spacingAndGlyphs">1.11000</text>
<rect x="1421" y="429" width="41" height="11" fill="#00ff00"/>
<text x="1425.5" y="438" font-size="9.6" fill="#fff" textLength="32" lengthAdjust="spacingAndGlyphs">1.10201</text>
<rect x="1421" y="515" width="41" height="11" fill="#000"/>
<text x="1425.5" y="524" font-size="9.6" fill="#fff" textLength="32" lengthAdjust="spacingAndGlyphs">1.09335</text>
<polygon points="1130,24 1139,24 1134.5,29" fill="#c0c0c0"/>
<polygon points="7,34 14,34 10.5,30" fill="#000"/>
<text x="19.5" y="35" font-size="9.6" fill="#000" textLength="66" lengthAdjust="spacingAndGlyphs">EURUSD-,Daily</text>
<text x="92.5" y="35" font-size="9.6" fill="#000" textLength="140.5" lengthAdjust="spacingAndGlyphs">1.09409 1.09415 1.09299 1.09335</text>
<rect x="4" y="613" width="1" height="5" fill="#c0c0c0"/>
<rect x="12" y="613" width="1" height="5" fill="#c0c0c0"/>
<rect x="20" y="613" width="1" height="8" fill="#c0c0c0"/>
<rect x="28" y="613" width="1" height="16" fill="#c0c0c0"/>
<rect x="36" y="613" width="1" height="23" fill="#c0c0c0"/>
<rect x="44" y="613" width="1" height="27" fill="#c0c0c0"/>
<rect x="52" y="613" width="1" height="31" fill="#c0c0c0"/>
<rect x="60" y="613" width="1" height="30" fill="#c0c0c0"/>
<rect x="68" y="613" width="1" height="27" fill="#c0c0c0"/>
<rect x="76" y="613" width="1" height="25" fill="#c0c0c0"/>
<rect x="84" y="613" width="1" height="25" fill="#c0c0c0"/>
<rect x="92" y="613" width="1" height="24" fill="#c0c0c0"/>
<rect x="100" y="613" width="1" height="23" fill="#c0c0c0"/>
<rect x="108" y="613" width="1" height="21" fill="#c0c0c0"/>
<rect x="116" y="613" width="1" height="20" fill="#c0c0c0"/>
<rect x="124" y="613" width="1" height="18" fill="#c0c0c0"/>
<rect x="132" y="613" width="1" height="15" fill="#c0c0c0"/>
<rect x="140" y="613" width="1" height="11" fill="#c0c0c0"/>
<rect x="148" y="613" width="1" height="8" fill="#c0c0c0"/>
<rect x="156" y="613" width="1" height="5" fill="#c0c0c0"/>
<rect x="164" y="613" width="1" height="6" fill="#c0c0c0"/>
<rect x="172" y="613" width="1" height="6" fill="#c0c0c0"/>
<rect x="180" y="613" width="1" height="8" fill="#c0c0c0"/>
<rect x="188" y="613" width="1" height="11" fill="#c0c0c0"/>
<rect x="196" y="613" width="1" height="13" fill="#c0c0c0"/>
<rect x="204" y="613" width="1" height="14" fill="#c0c0c0"/>
<rect x="212" y="613" width="1" height="15" fill="#c0c0c0"/>
<rect x="220" y="613" width="1" height="17" fill="#c0c0c0"/>
<rect x="228" y="613" width="1" height="15" fill="#c0c0c0"/>
<rect x="236" y="613" width="1" height="12" fill="#c0c0c0"/>
<rect x="244" y="613" width="1" height="9" fill="#c0c0c0"/>
<rect x="252" y="613" width="1" height="8" fill="#c0c0c0"/>
<rect x="260" y="613" width="1" height="10" fill="#c0c0c0"/>
<rect x="268" y="613" width="1" height="13" fill="#c0c0c0"/>
<rect x="276" y="613" width="1" height="16" fill="#c0c0c0"/>
<rect x="284" y="613" width="1" height="15" fill="#c0c0c0"/>
<rect x="292" y="613" width="1" height="13" fill="#c0c0c0"/>
<rect x="300" y="613" width="1" height="6" fill="#c0c0c0"/>
<rect x="316" y="610" width="1" height="3" fill="#c0c0c0"/>
<rect x="324" y="604" width="1" height="9" fill="#c0c0c0"/>
<rect x="332" y="594" width="1" height="19" fill="#c0c0c0"/>
<rect x="340" y="588" width="1" height="25" fill="#c0c0c0"/>
<rect x="348" y="585" width="1" height="28" fill="#c0c0c0"/>
<rect x="356" y="581" width="1" height="32" fill="#c0c0c0"/>
<rect x="364" y="581" width="1" height="32" fill="#c0c0c0"/>
<rect x="372" y="583" width="1" height="30" fill="#c0c0c0"/>
<rect x="380" y="590" width="1" height="23" fill="#c0c0c0"/>
<rect x="388" y="596" width="1" height="17" fill="#c0c0c0"/>
<rect x="396" y="599" width="1" height="14" fill="#c0c0c0"/>
<rect x="404" y="604" width="1" height="9" fill="#c0c0c0"/>
<rect x="412" y="606" width="1" height="7" fill="#c0c0c0"/>
<rect x="420" y="602" width="1" height="11" fill="#c0c0c0"/>
<rect x="428" y="593" width="1" height="20" fill="#c0c0c0"/>
<rect x="436" y="585" width="1" height="28" fill="#c0c0c0"/>
<rect x="444" y="577" width="1" height="36" fill="#c0c0c0"/>
<rect x="452" y="575" width="1" height="38" fill="#c0c0c0"/>
<rect x="460" y="573" width="1" height="40" fill="#c0c0c0"/>
<rect x="468" y="572" width="1" height="41" fill="#c0c0c0"/>
<rect x="476" y="571" width="1" height="42" fill="#c0c0c0"/>
<rect x="484" y="572" width="1" height="41" fill="#c0c0c0"/>
<rect x="492" y="580" width="1" height="33" fill="#c0c0c0"/>
<rect x="500" y="585" width="1" height="28" fill="#c0c0c0"/>
<rect x="508" y="591" width="1" height="22" fill="#c0c0c0"/>
<rect x="516" y="595" width="1" height="18" fill="#c0c0c0"/>
<rect x="524" y="604" width="1" height="9" fill="#c0c0c0"/>
<rect x="532" y="611" width="1" height="2" fill="#c0c0c0"/>
<rect x="540" y="613" width="1" height="4" fill="#c0c0c0"/>
<rect x="548" y="613" width="1" height="10" fill="#c0c0c0"/>
<rect x="556" y="613" width="1" height="10" fill="#c0c0c0"/>
<rect x="564" y="613" width="1" height="10" fill="#c0c0c0"/>
<rect x="572" y="613" width="1" height="9" fill="#c0c0c0"/>
<rect x="580" y="613" width="1" height="7" fill="#c0c0c0"/>
<rect x="588" y="613" width="1" height="7" fill="#c0c0c0"/>
<rect x="596" y="613" width="1" height="11" fill="#c0c0c0"/>
<rect x="604" y="613" width="1" height="13" fill="#c0c0c0"/>
<rect x="612" y="613" width="1" height="11" fill="#c0c0c0"/>
<rect x="620" y="613" width="1" height="13" fill="#c0c0c0"/>
<rect x="628" y="613" width="1" height="15" fill="#c0c0c0"/>
<rect x="636" y="613" width="1" height="17" fill="#c0c0c0"/>
<rect x="644" y="613" width="1" height="22" fill="#c0c0c0"/>
<rect x="652" y="613" width="1" height="27" fill="#c0c0c0"/>
<rect x="660" y="613" width="1" height="31" fill="#c0c0c0"/>
<rect x="668" y="613" width="1" height="35" fill="#c0c0c0"/>
<rect x="676" y="613" width="1" height="37" fill="#c0c0c0"/>
<rect x="684" y="613" width="1" height="37" fill="#c0c0c0"/>
<rect x="692" y="613" width="1" height="36" fill="#c0c0c0"/>
<rect x="700" y="613" width="1" height="42" fill="#c0c0c0"/>
<rect x="708" y="613" width="1" height="45" fill="#c0c0c0"/>
<rect x="716" y="613" width="1" height="44" fill="#c0c0c0"/>
<rect x="724" y="613" width="1" height="44" fill="#c0c0c0"/>
<rect x="732" y="613" width="1" height="32" fill="#c0c0c0"/>
<rect x="740" y="613" width="1" height="25" fill="#c0c0c0"/>
<rect x="748" y="613" width="1" height="19" fill="#c0c0c0"/>
<rect x="756" y="613" width="1" height="16" fill="#c0c0c0"/>
<rect x="764" y="613" width="1" height="12" fill="#c0c0c0"/>
<rect x="772" y="613" width="1" height="8" fill="#c0c0c0"/>
<rect x="780" y="613" width="1" height="5" fill="#c0c0c0"/>
<rect x="788" y="613" width="1" height="5" fill="#c0c0c0"/>
<rect x="796" y="613" width="1" height="8" fill="#c0c0c0"/>
<rect x="804" y="613" width="1" height="13" fill="#c0c0c0"/>
<rect x="812" y="613" width="1" height="18" fill="#c0c0c0"/>
<rect x="820" y="613" width="1" height="22" fill="#c0c0c0"/>
<rect x="828" y="613" width="1" height="26" fill="#c0c0c0"/>
<rect x="836" y="613" width="1" height="27" fill="#c0c0c0"/>
<rect x="844" y="613" width="1" height="28" fill="#c0c0c0"/>
<rect x="852" y="613" width="1" height="29" fill="#c0c0c0"/>
<rect x="860" y="613" width="1" height="25" fill="#c0c0c0"/>
<rect x="868" y="613" width="1" height="21" fill="#c0c0c0"/>
<rect x="876" y="613" width="1" height="22" fill="#c0c0c0"/>
<rect x="884" y="613" width="1" height="23" fill="#c0c0c0"/>
<rect x="892" y="613" width="1" height="24" fill="#c0c0c0"/>
<rect x="900" y="613" width="1" height="26" fill="#c0c0c0"/>
<rect x="908" y="613" width="1" height="35" fill="#c0c0c0"/>
<rect x="916" y="613" width="1" height="40" fill="#c0c0c0"/>
<rect x="924" y="613" width="1" height="45" fill="#c0c0c0"/>
<rect x="932" y="613" width="1" height="49" fill="#c0c0c0"/>
<rect x="940" y="613" width="1" height="46" fill="#c0c0c0"/>
<rect x="948" y="613" width="1" height="43" fill="#c0c0c0"/>
<rect x="956" y="613" width="1" height="40" fill="#c0c0c0"/>
<rect x="964" y="613" width="1" height="39" fill="#c0c0c0"/>
<rect x="972" y="613" width="1" height="35" fill="#c0c0c0"/>
<rect x="980" y="613" width="1" height="31" fill="#c0c0c0"/>
<rect x="988" y="613" width="1" height="31" fill="#c0c0c0"/>
<rect x="996" y="613" width="1" height="27" fill="#c0c0c0"/>
<rect x="1004" y="613" width="1" height="23" fill="#c0c0c0"/>
<rect x="1012" y="613" width="1" height="18" fill="#c0c0c0"/>
<rect x="1020" y="613" width="1" height="20" fill="#c0c0c0"/>
<rect x="1028" y="613" width="1" height="16" fill="#c0c0c0"/>
<rect x="1036" y="613" width="1" height="16" fill="#c0c0c0"/>
<rect x="1044" y="613" width="1" height="15" fill="#c0c0c0"/>
<rect x="1052" y="613" width="1" height="16" fill="#c0c0c0"/>
<rect x="1060" y="613" width="1" height="17" fill="#c0c0c0"/>
<rect x="1068" y="613" width="1" height="19" fill="#c0c0c0"/>
<rect x="1076" y="613" width="1" height="19" fill="#c0c0c0"/>
<rect x="1084" y="613" width="1" height="24" fill="#c0c0c0"/>
<rect x="1092" y="613" width="1" height="30" fill="#c0c0c0"/>
<rect x="1100" y="613" width="1" height="33" fill="#c0c0c0"/>
<rect x="1108" y="613" width="1" height="34" fill="#c0c0c0"/>
<rect x="1116" y="613" width="1" height="36" fill="#c0c0c0"/>
<polyline points="4.5,620.3 12.5,619.3 20.5,618.5 28.5,618.5 36.5,620.0 44.5,622.0 52.5,627.2 60.5,630.3 68.5,631.4 76.5,633.6 84.5,635.9 92.5,637.7 100.5,638.5 108.5,638.3 116.5,637.4 124.5,636.1 132.5,634.4 140.5,632.7 148.5,630.9 156.5,628.7 164.5,626.7 172.5,624.8 180.5,623.4 188.5,622.4 196.5,621.9 204.5,621.8 212.5,622.3 220.5,623.2 228.5,624.3 236.5,625.0 244.5,625.4 252.5,625.4 260.5,625.2 268.5,625.1 276.5,625.3 284.5,625.2 292.5,624.8 300.5,623.8 308.5,622.5 316.5,621.2 324.5,619.2 332.5,616.1 340.5,611.9 348.5,607.0 356.5,601.8 364.5,596.8 372.5,592.8 380.5,590.2 388.5,588.6 396.5,588.1 404.5,589.2 412.5,591.2 420.5,593.0 428.5,594.3 436.5,594.7 444.5,594.1 452.5,592.4 460.5,589.8 468.5,586.8 476.5,583.1 484.5,579.3 492.5,576.9 500.5,576.1 508.5,576.7 516.5,578.7 524.5,582.0 532.5,586.2 540.5,591.2 548.5,597.0 556.5,602.6 564.5,607.4 572.5,611.5 580.5,614.8 588.5,617.6 596.5,619.8 604.5,621.5 612.5,622.2 620.5,622.6 628.5,623.2 636.5,623.9 644.5,625.4 652.5,627.7 660.5,630.3 668.5,632.9 676.5,635.6 684.5,638.6 692.5,641.1 700.5,644.1 708.5,647.3 716.5,649.7 724.5,651.5 732.5,651.6 740.5,650.5 748.5,648.5 756.5,646.1 764.5,643.5 772.5,639.8 780.5,635.3 788.5,631.0 796.5,627.0 804.5,625.0 812.5,624.2 820.5,624.5 828.5,625.5 836.5,627.2 844.5,629.4 852.5,632.1 860.5,634.3 868.5,635.8 876.5,636.8 884.5,637.3 892.5,637.5 900.5,637.5 908.5,638.4 916.5,639.7 924.5,641.4 932.5,644.1 940.5,646.8 948.5,649.1 956.5,651.1 964.5,652.7 972.5,653.7 980.5,653.3 988.5,652.4 996.5,650.3 1004.5,647.5 1012.5,644.4 1020.5,641.9 1028.5,639.2 1036.5,636.7 1044.5,634.5 1052.5,632.8 1060.5,631.2 1068.5,630.4 1076.5,629.9 1084.5,630.6 1092.5,631.7 1100.5,633.5 1108.5,635.5 1116.5,637.8" fill="none" stroke="#ff0000" stroke-width="1" stroke-dasharray="3,3"/>
<text x="8" y="577" font-size="9.6" fill="#000" textLength="154" lengthAdjust="spacingAndGlyphs">MACD(12,26,9) -0.003483 -0.002460</text>
<rect x="1420" y="613" width="2" height="1" fill="#000"/>
<text x="1423.8" y="616.5" font-size="9.6" fill="#000" textLength="16.6" lengthAdjust="spacingAndGlyphs">0.00</text>
<text x="1423.8" y="575" font-size="9.6" fill="#000" textLength="37.2" lengthAdjust="spacingAndGlyphs">0.004536</text>
<text x="1423" y="664.5" font-size="9.6" fill="#000" textLength="41" lengthAdjust="spacingAndGlyphs">-0.005205</text>
<rect x="1420" y="566" width="2" height="1" fill="#000"/>
<rect x="1420" y="666" width="2" height="1" fill="#000"/>
<line x1="4" y1="709.5" x2="1419" y2="709.5" stroke="#c0c0c0" stroke-width="1" stroke-dasharray="3,3"/>
<line x1="4" y1="760.5" x2="1419" y2="760.5" stroke="#c0c0c0" stroke-width="1" stroke-dasharray="3,3"/>
<polyline points="4.5,741.1 12.5,738.1 20.5,744.6 28.5,754.9 36.5,757.1 44.5,752.4 52.5,753.1 60.5,744.6 68.5,738.2 76.5,740.3 84.5,745.5 92.5,740.8 100.5,742.3 108.5,738.8 116.5,741.0 124.5,739.0 132.5,734.3 140.5,731.3 148.5,730.2 156.5,731.5 164.5,738.5 172.5,737.7 180.5,745.6 188.5,748.1 196.5,746.8 204.5,746.1 212.5,746.6 220.5,748.9 228.5,738.9 236.5,731.4 244.5,732.3 252.5,737.5 260.5,743.3 268.5,750.6 276.5,752.0 284.5,738.2 292.5,738.0 300.5,721.5 308.5,720.2 316.5,726.9 324.5,718.5 332.5,709.9 340.5,715.0 348.5,718.3 356.5,715.0 364.5,723.8 372.5,726.7 380.5,740.1 388.5,738.6 396.5,736.8 404.5,741.5 412.5,734.1 420.5,724.7 428.5,715.6 436.5,713.9 444.5,712.2 452.5,719.2 460.5,718.5 468.5,719.0 476.5,718.3 484.5,722.2 492.5,736.5 500.5,735.9 508.5,736.5 516.5,736.9 524.5,747.9 532.5,746.8 540.5,748.6 548.5,750.4 556.5,737.9 564.5,739.4 572.5,734.9 580.5,734.9 588.5,737.3 596.5,746.7 604.5,742.7 612.5,735.3 620.5,743.1 628.5,743.5 636.5,745.6 644.5,753.8 652.5,755.1 660.5,754.5 668.5,757.2 676.5,756.0 684.5,752.2 692.5,747.9 700.5,760.7 708.5,758.5 716.5,750.1 724.5,750.5 732.5,725.1 740.5,731.4 748.5,731.5 756.5,734.7 764.5,731.3 772.5,731.1 780.5,729.5 788.5,737.2 796.5,742.9 804.5,747.7 812.5,750.0 820.5,750.6 828.5,752.1 836.5,747.9 844.5,749.1 852.5,750.3 860.5,735.2 868.5,735.5 876.5,743.5 884.5,745.9 892.5,746.4 900.5,751.0 908.5,761.8 916.5,758.3 924.5,761.4 932.5,759.2 940.5,744.4 948.5,744.4 956.5,745.1 964.5,746.5 972.5,740.6 980.5,739.8 988.5,746.8 996.5,736.9 1004.5,734.6 1012.5,731.3 1020.5,745.9 1028.5,733.0 1036.5,739.8 1044.5,737.3 1052.5,741.6 1060.5,741.1 1068.5,744.7 1076.5,740.9 1084.5,749.6 1092.5,753.0 1100.5,749.4 1108.5,749.0 1116.5,750.0" fill="none" stroke="#1e90ff" stroke-width="1"/>
<text x="8" y="682" font-size="9.6" fill="#000" textLength="67.5" lengthAdjust="spacingAndGlyphs">RSI(14) 37.9991</text>
<rect x="1420" y="670" width="2" height="1" fill="#000"/>
<text x="1423.3" y="680" font-size="9.6" fill="#000" textLength="14.6" lengthAdjust="spacingAndGlyphs">100</text>
<text x="1422.2" y="713" font-size="9.6" fill="#000" textLength="9.5" lengthAdjust="spacingAndGlyphs">70</text>
<text x="1422.2" y="764" font-size="9.6" fill="#000" textLength="9.5" lengthAdjust="spacingAndGlyphs">30</text>
<rect x="1420" y="798" width="1" height="1" fill="#000"/>
<text x="1423.3" y="796" font-size="9.6" fill="#000" textLength="4.5" lengthAdjust="spacingAndGlyphs">0</text>
<rect x="4" y="800" width="1" height="2" fill="#000"/>
<text x="3" y="812" font-size="9.8" fill="#000" textLength="50.6" lengthAdjust="spacingAndGlyphs">21 Apr 2019</text>
<rect x="68" y="800" width="1" height="2" fill="#000"/>
<text x="67" y="812" font-size="9.8" fill="#000" textLength="50.4" lengthAdjust="spacingAndGlyphs">30 Apr 2019</text>
<rect x="132" y="800" width="1" height="2" fill="#000"/>
<text x="131" y="812" font-size="9.8" fill="#000" textLength="50.3" lengthAdjust="spacingAndGlyphs">9 May 2019</text>
<rect x="196" y="800" width="1" height="2" fill="#000"/>
<text x="195" y="812" font-size="9.8" fill="#000" textLength="54.4" lengthAdjust="spacingAndGlyphs">19 May 2019</text>
<rect x="260" y="800" width="1" height="2" fill="#000"/>
<text x="259" y="812" font-size="9.8" fill="#000" textLength="53.5" lengthAdjust="spacingAndGlyphs">28 May 2019</text>
<rect x="324" y="800" width="1" height="2" fill="#000"/>
<text x="323" y="812" font-size="9.8" fill="#000" textLength="44.9" lengthAdjust="spacingAndGlyphs">6 Jun 2019</text>
<rect x="388" y="800" width="1" height="2" fill="#000"/>
<text x="387" y="812" font-size="9.8" fill="#000" textLength="50.4" lengthAdjust="spacingAndGlyphs">16 Jun 2019</text>
<rect x="452" y="800" width="1" height="2" fill="#000"/>
<text x="451" y="812" font-size="9.8" fill="#000" textLength="49.2" lengthAdjust="spacingAndGlyphs">25 Jun 2019</text>
<rect x="516" y="800" width="1" height="2" fill="#000"/>
<text x="515" y="812" font-size="9.8" fill="#000" textLength="42.5" lengthAdjust="spacingAndGlyphs">4 Jul 2019</text>
<rect x="580" y="800" width="1" height="2" fill="#000"/>
<text x="579" y="812" font-size="9.8" fill="#000" textLength="47.6" lengthAdjust="spacingAndGlyphs">14 Jul 2019</text>
<rect x="644" y="800" width="1" height="2" fill="#000"/>
<text x="643" y="812" font-size="9.8" fill="#000" textLength="46.4" lengthAdjust="spacingAndGlyphs">23 Jul 2019</text>
<rect x="708" y="800" width="1" height="2" fill="#000"/>
<text x="707" y="812" font-size="9.8" fill="#000" textLength="47.6" lengthAdjust="spacingAndGlyphs">1 Aug 2019</text>
<rect x="772" y="800" width="1" height="2" fill="#000"/>
<text x="771" y="812" font-size="9.8" fill="#000" textLength="52.4" lengthAdjust="spacingAndGlyphs">11 Aug 2019</text>
<rect x="836" y="800" width="1" height="2" fill="#000"/>
<text x="835" y="812" font-size="9.8" fill="#000" textLength="52.4" lengthAdjust="spacingAndGlyphs">20 Aug 2019</text>
<rect x="900" y="800" width="1" height="2" fill="#000"/>
<text x="899" y="812" font-size="9.8" fill="#000" textLength="52.8" lengthAdjust="spacingAndGlyphs">29 Aug 2019</text>
<rect x="964" y="800" width="1" height="2" fill="#000"/>
<text x="963" y="812" font-size="9.8" fill="#000" textLength="46" lengthAdjust="spacingAndGlyphs">8 Sep 2019</text>
<rect x="1028" y="800" width="1" height="2" fill="#000"/>
<text x="1027" y="812" font-size="9.8" fill="#000" textLength="50.4" lengthAdjust="spacingAndGlyphs">17 Sep 2019</text>
<rect x="1092" y="800" width="1" height="2" fill="#000"/>
<text x="1091" y="812" font-size="9.8" fill="#000" textLength="51.6" lengthAdjust="spacingAndGlyphs">26 Sep 2019</text>
<text x="16.7" y="837" font-size="12.3" fill="#000" textLength="84" lengthAdjust="spacingAndGlyphs">EURUSD-,Daily</text>
<text x="123.2" y="837" font-size="12.3" fill="#6a6a6a" textLength="86.6" lengthAdjust="spacingAndGlyphs">AUDUSD-,Daily</text>
<text x="233.4" y="837" font-size="12.3" fill="#6a6a6a" textLength="83.5" lengthAdjust="spacingAndGlyphs">USDCHF-,Daily</text>
<text x="340.1" y="837" font-size="12.3" fill="#6a6a6a" textLength="85.6" lengthAdjust="spacingAndGlyphs">USDCAD-,Daily</text>
<text x="449.5" y="837" font-size="12.3" fill="#6a6a6a" textLength="87.5" lengthAdjust="spacingAndGlyphs">USDCNH-,Daily</text>
<text x="560.3" y="837" font-size="12.3" fill="#6a6a6a" textLength="96.2" lengthAdjust="spacingAndGlyphs">EURCHF-,Weekly</text>
<text x="680.1" y="837" font-size="12.3" fill="#6a6a6a" textLength="85.6" lengthAdjust="spacingAndGlyphs">XAUUSD-,Daily</text>
<text x="788.4" y="837" font-size="12.3" fill="#6a6a6a" textLength="71.9" lengthAdjust="spacingAndGlyphs">GBPUSD-,H1</text>
<text x="884.6" y="837" font-size="12.3" fill="#6a6a6a" textLength="56.2" lengthAdjust="spacingAndGlyphs">UKOil-,H1</text>
<text x="963.5" y="837" font-size="12.3" fill="#6a6a6a" textLength="82.7" lengthAdjust="spacingAndGlyphs">USDX-,Weekly</text>
<text x="1068.4" y="837" font-size="12.3" fill="#6a6a6a" textLength="96.6" lengthAdjust="spacingAndGlyphs">EURCHF-,Weekly</text>
<rect x="221" y="826" width="1" height="12" fill="#808080"/>
<rect x="329" y="826" width="1" height="12" fill="#808080"/>
<rect x="437" y="826" width="1" height="12" fill="#808080"/>
<rect x="548" y="826" width="1" height="12" fill="#808080"/>
<rect x="669" y="826" width="1" height="12" fill="#808080"/>
<rect x="777" y="826" width="1" height="12" fill="#808080"/>
<rect x="873" y="826" width="1" height="12" fill="#808080"/>
<rect x="953" y="826" width="1" height="12" fill="#808080"/>
<rect x="1057" y="826" width="1" height="12" fill="#808080"/>
<rect x="1177" y="826" width="1" height="12" fill="#808080"/>
<polygon points="1435,831 1438,828 1438,834" fill="#808080"/>
<polygon points="1454,828 1457,831 1454,834" fill="#808080"/>
</svg>
<!-- one-click trading panel -->
<div class="bl" style="left:5px;top:41px;width:223px;height:68px;background:#fff"></div>
<div class="bl" style="left:7px;top:43px;width:52px;height:25px;background:linear-gradient(#5a5aff,#4444f4);border:1px solid #0c0ca8;border-bottom:none"></div>
<div class="bl" style="left:7px;top:67px;width:109px;height:40px;background:linear-gradient(#3a3ae8,#2020cc 40%,#0505a8);border-left:1px solid #0c0ca8"></div>
<div class="bl" style="left:58px;top:67px;width:58px;height:1px;background:#0c0ca8"></div>
<div class="bl" style="left:11px;top:66px;width:44px;height:1px;background:#1a1aa8"></div>
<div class="bl" style="left:11px;top:67px;width:44px;height:1px;background:#7a7aff"></div>
<div class="bl" style="left:174px;top:43px;width:52px;height:25px;background:linear-gradient(#5a5aff,#4444f4);border:1px solid #0c0ca8;border-bottom:none"></div>
<div class="bl" style="left:118px;top:67px;width:108px;height:40px;background:linear-gradient(#3a3ae8,#2020cc 40%,#0505a8)"></div>
<div class="bl" style="left:118px;top:67px;width:57px;height:1px;background:#0c0ca8"></div>
<div class="bl" style="left:178px;top:66px;width:44px;height:1px;background:#1a1aa8"></div>
<div class="bl" style="left:178px;top:67px;width:44px;height:1px;background:#7a7aff"></div>
<!-- volume box -->
<div class="bl" style="left:61px;top:43px;width:112px;height:22px;background:#fff;border:1px solid #a8a8a8"></div>
<div class="bl" style="left:63px;top:45px;width:18px;height:18px;background:linear-gradient(#f0f0f0 0,#ececec 35%,#dadada 36%,#d2d2d2 100%)"></div>
<div class="bl" style="left:82px;top:44px;width:1px;height:20px;background:#a8a8a8"></div>
<div class="bl" style="left:151px;top:44px;width:1px;height:20px;background:#a8a8a8"></div>
<div class="bl" style="left:153px;top:45px;width:18px;height:18px;background:linear-gradient(#f0f0f0 0,#ececec 35%,#dadada 36%,#d2d2d2 100%)"></div>
<svg class="abs" style="left:0;top:0" width="240" height="110" viewBox="0 0 240 110">
<defs><linearGradient id="pg" gradientUnits="userSpaceOnUse" x1="0" y1="67" x2="0" y2="107"><stop offset="0" stop-color="#3a3ae8"/><stop offset="0.4" stop-color="#2020cc"/><stop offset="1" stop-color="#0505a8"/></linearGradient></defs>
<polygon points="69,52 74,52 71.5,55" fill="#4a64c8"/>
<polygon points="158,55 163,55 160.5,52" fill="#4a64c8"/>
<g font-family="Liberation Sans">
<text x="123" y="58" font-size="12" fill="#000" textLength="24.2" lengthAdjust="spacingAndGlyphs">1.00</text>
<text x="18.4" y="59" font-size="12.5" fill="#eef" textLength="28" lengthAdjust="spacingAndGlyphs">SELL</text>
<text x="187" y="59" font-size="12.5" fill="#eef" textLength="24.8" lengthAdjust="spacingAndGlyphs">BUY</text>
<text x="27" y="98" font-size="12.5" font-weight="bold" fill="#fff" textLength="24" lengthAdjust="spacingAndGlyphs">1.09</text>
<text x="53.5" y="98.2" font-size="36" fill="#fff" stroke="url(#pg)" stroke-width="0.8" textLength="36.6" lengthAdjust="spacingAndGlyphs">33</text>
<text x="94.2" y="81.8" font-size="12.3" font-weight="bold" fill="#fff" textLength="7" lengthAdjust="spacingAndGlyphs">5</text>
<text x="137.1" y="98" font-size="12.5" font-weight="bold" fill="#fff" textLength="24.3" lengthAdjust="spacingAndGlyphs">1.09</text>
<text x="164.9" y="98.2" font-size="36" fill="#fff" stroke="url(#pg)" stroke-width="0.8" textLength="36.6" lengthAdjust="spacingAndGlyphs">35</text>
<text x="204.4" y="81.8" font-size="12.3" font-weight="bold" fill="#fff" textLength="7.6" lengthAdjust="spacingAndGlyphs">4</text>
</g>
</svg>
</body></html>
